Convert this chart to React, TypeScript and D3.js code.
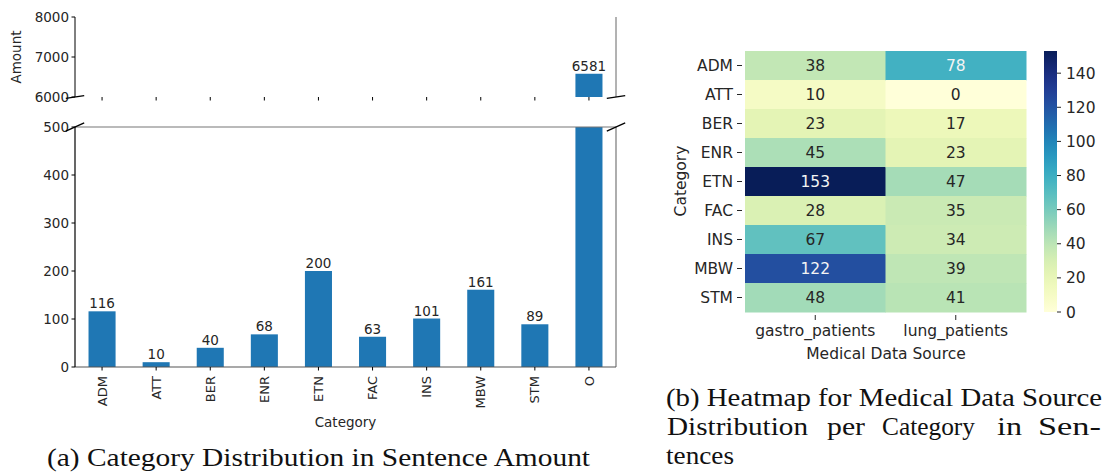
import React from "react";
import * as d3 from "d3";

// bar chart data
const categories = ["ADM", "ATT", "BER", "ENR", "ETN", "FAC", "INS", "MBW", "STM", "O"];
const amounts = [116, 10, 40, 68, 200, 63, 101, 161, 89, 6581];
const lowTicks = [0, 100, 200, 300, 400, 500];
const highTicks = [6000, 7000, 8000];

// heatmap data
const hmCategories = ["ADM", "ATT", "BER", "ENR", "ETN", "FAC", "INS", "MBW", "STM"];
const sources = ["gastro_patients", "lung_patients"];
const gastro = [38, 10, 23, 45, 153, 28, 67, 122, 48];
const lung = [78, 0, 17, 23, 47, 35, 34, 39, 41];
const cbTicks = [0, 20, 40, 60, 80, 100, 120, 140];

const FONT = "DejaVu Sans, sans-serif";
const SERIF = "Liberation Serif, DejaVu Serif, serif";
const TXT = "#262626";
const BLUE = "#1f77b4";
const LFS = 13.5; // left panel font size
const HFS = 15.5; // heatmap font size
const CFS = 26; // caption font size

function luminance(c: string) {
  const rgb = d3.rgb(c);
  const lin = (v: number) => {
    v = v / 255;
    return v <= 0.03928 ? v / 12.92 : Math.pow((v + 0.055) / 1.055, 2.4);
  };
  return 0.2126 * lin(rgb.r) + 0.7152 * lin(rgb.g) + 0.0722 * lin(rgb.b);
}

function BarPanel() {
  const left = 75, right = 616;
  const x = d3.scaleBand().domain(categories).range([left, right]).paddingInner(0.5).paddingOuter(0.25);
  const yLow = d3.scaleLinear().domain([0, 500]).range([367, 127]);
  const yHigh = d3.scaleLinear().domain([6000, 8000]).range([97, 17]);
  const w = right - left;
  const d = 0.017;
  const breakMark = (cx: number, cy: number, h: number, key: string) => (
    <line key={key} x1={cx - d * w} y1={cy + d * h} x2={cx + d * w} y2={cy - d * h} stroke="#000" strokeWidth={1.3} />
  );
  const cxOf = (c: string) => (x(c) as number) + x.bandwidth() / 2;
  return (
    <g>
      {/* top axes */}
      <line x1={left} x2={left} y1={17} y2={97} stroke="#000" strokeWidth={1} />
      <line x1={right} x2={right} y1={17} y2={97} stroke="#666" strokeWidth={1} />
      {highTicks.map((t) => (
        <g key={"ht" + t}>
          <line x1={left - 3.5} x2={left} y1={yHigh(t)} y2={yHigh(t)} stroke="#000" />
          <text x={left - 6} y={yHigh(t)} dy="0.35em" textAnchor="end" fontFamily={FONT} fontSize={LFS} fill={TXT}>{t}</text>
        </g>
      ))}
      {categories.map((c) => (
        <line key={"htx" + c} x1={cxOf(c)} x2={cxOf(c)} y1={97} y2={100.5} stroke="#000" />
      ))}
      {categories.map((c, i) =>
        amounts[i] > 6000 ? (
          <g key={"hb" + c}>
            <rect x={x(c)} width={x.bandwidth()} y={yHigh(Math.min(amounts[i], 8000))} height={97 - yHigh(Math.min(amounts[i], 8000))} fill={BLUE} />
            <text x={cxOf(c)} y={yHigh(amounts[i]) - 3} textAnchor="middle" fontFamily={FONT} fontSize={LFS} fill={TXT}>{amounts[i]}</text>
          </g>
        ) : null
      )}
      <text transform="translate(21,57) rotate(-90)" textAnchor="middle" fontFamily={FONT} fontSize={LFS} fill={TXT}>Amount</text>

      {/* bottom axes */}
      {categories.map((c, i) => {
        const v = Math.min(amounts[i], 500);
        return (
          <g key={"lb" + c}>
            <rect x={x(c)} width={x.bandwidth()} y={yLow(v)} height={367 - yLow(v)} fill={BLUE} />
            {amounts[i] <= 500 && (
              <text x={cxOf(c)} y={yLow(amounts[i]) - 3} textAnchor="middle" fontFamily={FONT} fontSize={LFS} fill={TXT}>{amounts[i]}</text>
            )}
          </g>
        );
      })}
      <line x1={left} x2={right} y1={127} y2={127} stroke="#777" strokeWidth={1.2} />
      <line x1={right} x2={right} y1={127} y2={367} stroke="#777" strokeWidth={1.2} />
      <line x1={left} x2={right} y1={367} y2={367} stroke="#555" strokeWidth={1.2} />
      <line x1={left} x2={left} y1={127} y2={367} stroke="#000" strokeWidth={1.2} />
      {lowTicks.map((t) => (
        <g key={"lt" + t}>
          <line x1={left - 3.5} x2={left} y1={yLow(t)} y2={yLow(t)} stroke="#000" />
          <text x={left - 6} y={yLow(t)} dy="0.35em" textAnchor="end" fontFamily={FONT} fontSize={LFS} fill={TXT}>{t}</text>
        </g>
      ))}
      {categories.map((c) => (
        <g key={"ltx" + c}>
          <line x1={cxOf(c)} x2={cxOf(c)} y1={367} y2={370.5} stroke="#000" />
          <text transform={`translate(${cxOf(c)},${376}) rotate(-90)`} dy="0.35em" textAnchor="end" fontFamily={FONT} fontSize={13} fill={TXT}>{c}</text>
        </g>
      ))}
      <text x={(left + right) / 2} y={427} textAnchor="middle" fontFamily={FONT} fontSize={LFS} fill={TXT}>Category</text>

      {/* break marks */}
      {breakMark(left, 97, 80, "b1")}
      {breakMark(right, 97, 80, "b2")}
      {breakMark(left, 127, 240, "b3")}
      {breakMark(right, 127, 240, "b4")}

      <text x={47} y={466} fontFamily={SERIF} fontSize={CFS} fill="#111" textLength={543} lengthAdjust="spacingAndGlyphs">(a) Category Distribution in Sentence Amount</text>
    </g>
  );
}

const captionB2 = [
  { w: "Distribution", x: 667, len: 141 },
  { w: "per", x: 827, len: 38 },
  { w: "Category", x: 882, len: 93 },
  { w: "in", x: 997, len: 25 },
  { w: "Sen-", x: 1038, len: 63 },
];

function HeatPanel() {
  const x = d3.scaleBand().domain(sources).range([745, 1026]);
  const y = d3.scaleBand().domain(hmCategories).range([51, 312]);
  const color = d3.scaleSequential(d3.interpolateYlGnBu).domain([0, 153]);
  const cb = d3.scaleLinear().domain([0, 153]).range([312, 51]);
  const cols = [gastro, lung];
  const stops = d3.range(0, 1.0001, 0.05);
  return (
    <g>
      <defs>
        <linearGradient id="cbgrad" x1="0" y1="1" x2="0" y2="0">
          {stops.map((s) => (
            <stop key={s} offset={s} stopColor={d3.interpolateYlGnBu(s)} />
          ))}
        </linearGradient>
      </defs>
      {sources.map((src, j) =>
        hmCategories.map((c, i) => {
          const v = cols[j][i];
          const fill = color(v);
          const txtFill = luminance(fill) > 0.408 ? TXT : "#f4f4f4";
          return (
            <g key={src + c}>
              <rect x={x(src)} y={y(c)} width={x.bandwidth() + 0.5} height={y.bandwidth() + 0.5} fill={fill} />
              <text x={(x(src) as number) + x.bandwidth() / 2} y={(y(c) as number) + y.bandwidth() / 2} dy="0.36em" textAnchor="middle" fontFamily={FONT} fontSize={HFS} fill={txtFill}>{v}</text>
            </g>
          );
        })
      )}
      {hmCategories.map((c) => (
        <g key={"hy" + c}>
          <line x1={737} x2={742} y1={(y(c) as number) + y.bandwidth() / 2} y2={(y(c) as number) + y.bandwidth() / 2} stroke={TXT} />
          <text x={733} y={(y(c) as number) + y.bandwidth() / 2} dy="0.36em" textAnchor="end" fontFamily={FONT} fontSize={HFS} fill={TXT}>{c}</text>
        </g>
      ))}
      {sources.map((s) => (
        <g key={"hx" + s}>
          <line x1={(x(s) as number) + x.bandwidth() / 2} x2={(x(s) as number) + x.bandwidth() / 2} y1={315} y2={320} stroke={TXT} />
          <text x={(x(s) as number) + x.bandwidth() / 2} y={336} textAnchor="middle" fontFamily={FONT} fontSize={HFS} fill={TXT}>{s}</text>
        </g>
      ))}
      <text x={886} y={359} textAnchor="middle" fontFamily={FONT} fontSize={HFS} fill={TXT}>Medical Data Source</text>
      <text transform="translate(686,181) rotate(-90)" textAnchor="middle" fontFamily={FONT} fontSize={HFS} fill={TXT}>Category</text>

      <rect x={1044} y={51} width={13} height={261} fill="url(#cbgrad)" />
      {cbTicks.map((t) => (
        <g key={"cb" + t}>
          <line x1={1057} x2={1061} y1={cb(t)} y2={cb(t)} stroke={TXT} />
          <text x={1066} y={cb(t)} dy="0.36em" fontFamily={FONT} fontSize={HFS} fill={TXT}>{t}</text>
        </g>
      ))}

      <text x={666} y={406} fontFamily={SERIF} fontSize={CFS} fill="#111" textLength={436} lengthAdjust="spacingAndGlyphs">(b) Heatmap for Medical Data Source</text>
      {captionB2.map((wd) => (
        <text key={wd.w} x={wd.x} y={435} fontFamily={SERIF} fontSize={CFS} fill="#111" textLength={wd.len} lengthAdjust="spacingAndGlyphs">{wd.w}</text>
      ))}
      <text x={666} y={464} fontFamily={SERIF} fontSize={CFS} fill="#111" textLength={68} lengthAdjust="spacingAndGlyphs">tences</text>
    </g>
  );
}

export default function App() {
  return (
    <svg width={1102} height={472} style={{ position: "absolute", left: 0, top: 0, background: "#fff" }}>
      <rect width={1102} height={472} fill="#fff" />
      <BarPanel />
      <HeatPanel />
    </svg>
  );
}
